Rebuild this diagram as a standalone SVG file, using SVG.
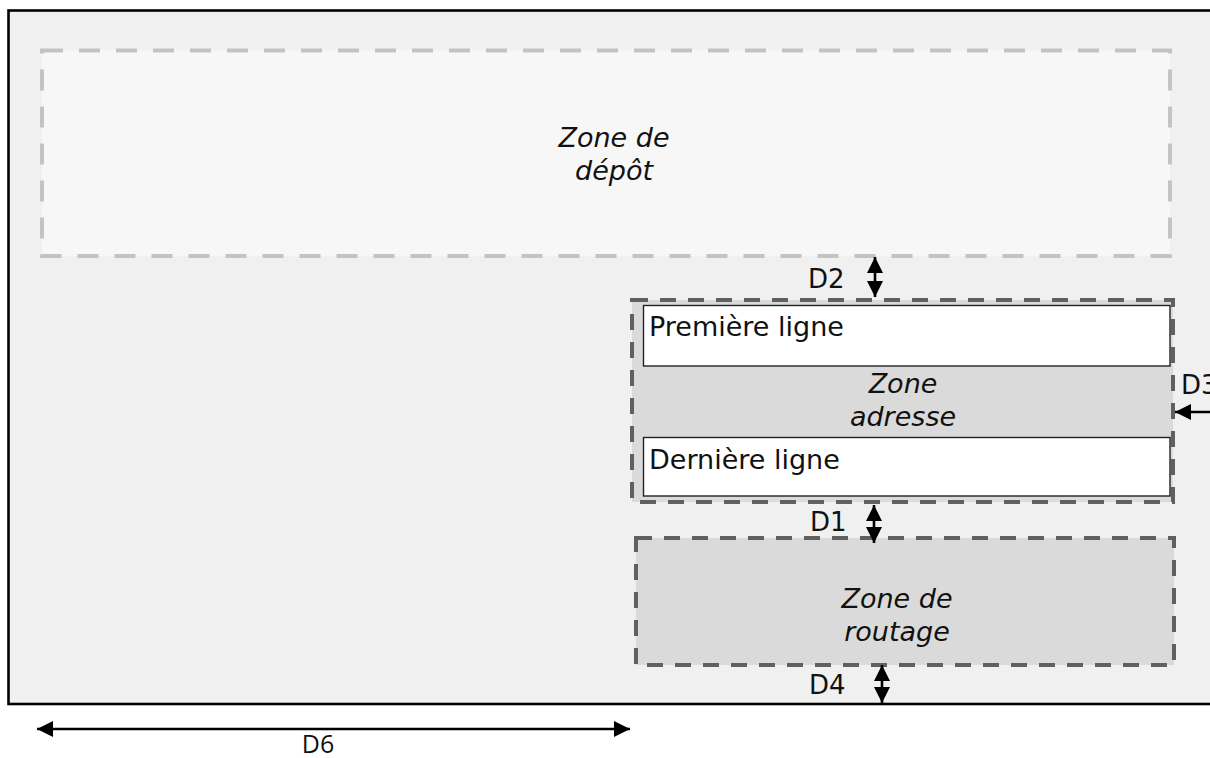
<svg xmlns="http://www.w3.org/2000/svg" width="1210" height="758" viewBox="0 0 1210 758">
<defs>
<marker id="ah" viewBox="0 0 16 16" refX="16" refY="8" markerWidth="16" markerHeight="16" markerUnits="userSpaceOnUse" orient="auto-start-reverse">
<path d="M0,0 L16,8 L0,16 z" fill="#000"/>
</marker>
<style>
.lbl{font-family:"DejaVu Sans",sans-serif;font-size:27px;fill:#111}
.it{font-family:"DejaVu Sans",sans-serif;font-size:27px;font-style:italic;fill:#111;text-anchor:middle}
.dl{font-family:"DejaVu Sans",sans-serif;font-size:26px;fill:#111}
.arr{stroke:#000;stroke-width:2.6;fill:none;marker-start:url(#ah);marker-end:url(#ah)}
.zone{stroke-width:4;stroke-dasharray:16 12}
.line{fill:#fff;stroke:#222;stroke-width:1.4}
</style>
</defs>
<rect width="1210" height="758" fill="#fff"/>
<g id="page">
<rect x="8.5" y="10.5" width="1215" height="693.5" fill="#f0f0f0" stroke="#000" stroke-width="2.6"/>
</g>
<g id="zone-depot">
<rect x="42" y="50.5" width="1128" height="205.5" fill="#f7f7f7" stroke="#c3c3c3" stroke-width="4" stroke-dasharray="21 16"/>
<text class="it" x="614" y="147">Zone de</text>
<text class="it" x="614" y="180">dépôt</text>
</g>
<g id="zone-adresse">
<rect class="zone" x="632" y="300" width="541" height="202" fill="#dadada" stroke="#606060"/>
<text class="it" x="903" y="393">Zone</text>
<text class="it" x="903" y="426">adresse</text>
</g>
<g id="premiere-ligne">
<rect class="line" x="643.5" y="305.5" width="526.5" height="60.5"/>
<text class="lbl" x="649" y="336">Première ligne</text>
</g>
<g id="derniere-ligne">
<rect class="line" x="643.5" y="437.5" width="526.5" height="58.5"/>
<text class="lbl" x="649" y="469">Dernière ligne</text>
</g>
<g id="zone-routage">
<rect class="zone" x="636" y="538" width="538" height="127" fill="#dadada" stroke="#606060"/>
<text class="it" x="897" y="608">Zone de</text>
<text class="it" x="897" y="641">routage</text>
</g>
<g id="connectors">
<line class="arr" x1="875" y1="257" x2="875" y2="297"/>
<line class="arr" x1="874" y1="505" x2="874" y2="543"/>
<line class="arr" x1="882" y1="665" x2="882" y2="703"/>
<line class="arr" x1="1175" y1="412" x2="1240" y2="412"/>
<line class="arr" x1="37" y1="729" x2="630" y2="729"/>
</g>
<g id="labels">
<text class="dl" x="808" y="288">D2</text>
<text class="dl" x="810" y="531">D1</text>
<text class="dl" x="809" y="694">D4</text>
<text class="dl" x="1181" y="394">D3</text>
<text x="318" y="753" text-anchor="middle" style="font-family:'Open Sans',sans-serif;font-size:25px;fill:#111">D6</text>
</g>
</svg>
